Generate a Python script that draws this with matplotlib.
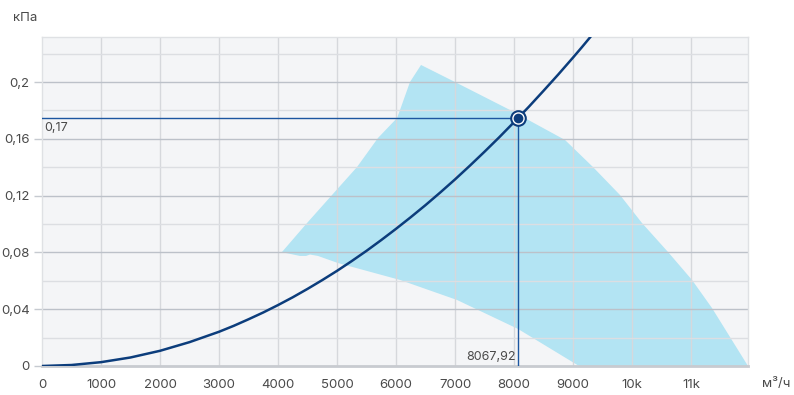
import numpy as np
import matplotlib
matplotlib.use("Agg")
import matplotlib.pyplot as plt

# ── Data ────────────────────────────────────────────────────────────────────
# system curve, m³/h vs kPa
curve_q = [0, 500, 1000, 1500, 2000, 2500, 3000, 3250, 3500, 3750, 4000, 4250,
           4500, 4750, 5000, 5250, 5500, 5750, 6000, 6250, 6500, 6750, 7000,
           7250, 7500, 7750, 8000, 8250, 8500, 8750, 9000, 9150, 9300]
curve_p = [0, 0.0007, 0.0027, 0.006, 0.0107, 0.0168, 0.0241, 0.0283, 0.0329,
           0.0377, 0.0429, 0.0484, 0.0543, 0.0605, 0.067, 0.0739, 0.0811,
           0.0887, 0.0966, 0.1048, 0.1133, 0.1222, 0.1314, 0.141, 0.1509,
           0.1611, 0.1717, 0.1825, 0.1938, 0.2053, 0.2172, 0.2245, 0.232]

# working area of the fan (polygon outline)
area_q = [4068, 4492, 4915, 5339, 5695, 6017, 6068, 6237, 6424,
          7000, 7932, 8864, 9339, 9797, 10169, 10610, 11017, 11356, 11661, 11966,
          9102, 8068, 7034, 6068, 5017, 4678, 4542, 4475, 4373, 4051]
area_p = [0.0803, 0.1007, 0.1204, 0.1401, 0.1606, 0.1746, 0.1803, 0.2, 0.212,
          0.2, 0.1803, 0.1592, 0.1401, 0.1204, 0.1007, 0.0803, 0.0606, 0.0408, 0.0204, 0,
          0, 0.0261, 0.0465, 0.0606, 0.0725, 0.0775, 0.0785, 0.0775, 0.0775, 0.0803]

op_q = 8067.92
op_p = 0.1746

x_ticks = [0, 1000, 2000, 3000, 4000, 5000, 6000, 7000, 8000, 9000, 10000, 11000]
x_labels = ["0", "1000", "2000", "3000", "4000", "5000", "6000", "7000", "8000",
            "9000", "10k", "11k"]
y_ticks = [0, 0.04, 0.08, 0.12, 0.16, 0.2]
y_labels = ["0", "0,04", "0,08", "0,12", "0,16", "0,2"]

# ── Palette ─────────────────────────────────────────────────────────────────
BG    = "#f4f5f7"
FILL  = "#b3e4f3"
CURVE = "#0c3d7c"
GUIDE = "#1d56a0"
TXT   = "#4a4a4a"

plt.rcParams["font.family"] = ["Inter", "DejaVu Sans"]

fig = plt.figure(figsize=(7.94, 3.95), dpi=100)
ax = fig.add_axes([42 / 794, 29 / 395, 706 / 794, 329 / 395])
ax.set_facecolor(BG)
ax.set_xlim(0, 11966)
ax.set_ylim(0, 0.2317)

# grid: vertical every 1000, horizontal every 0.02 (labelled ones darker)
for q in range(1000, 12000, 1000):
    ax.axvline(q, color="#d6d8dc", lw=1.0, zorder=1.5)
for i, p in enumerate(np.arange(0.02, 0.23, 0.02)):
    c = "#bcc1c9" if i % 2 == 1 else "#dcdee2"
    ax.axhline(p, color=c, lw=1.0, zorder=1.5)

ax.fill(area_q, area_p, color=FILL, lw=0, zorder=1)
ax.plot(curve_q, curve_p, color=CURVE, lw=1.8, zorder=3, solid_capstyle="round")

# operating point guides
ax.plot([0, op_q], [op_p, op_p], color=GUIDE, lw=1.0, zorder=2.8)
ax.plot([op_q, op_q], [0, op_p], color=GUIDE, lw=1.0, zorder=2.8)
ax.plot(op_q, op_p, "o", ms=12, mfc=CURVE, mec="none", zorder=4)
ax.plot(op_q, op_p, "o", ms=9, mfc="white", mec="none", zorder=4.1)
ax.plot(op_q, op_p, "o", ms=7, mfc=CURVE, mec="none", zorder=4.2)

ax.text(40, op_p - 0.0025, "0,17", color=TXT, fontsize=9, ha="left", va="top")
ax.text(op_q - 30, 0.002, "8067,92", color=TXT, fontsize=9, ha="right", va="bottom")

# axes styling
for side in ["top", "right", "left"]:
    ax.spines[side].set_color("#dfe1e4")
    ax.spines[side].set_linewidth(1.0)
ax.spines["bottom"].set_color("#c8cbd0")
ax.spines["bottom"].set_linewidth(2)

ax.set_xticks(x_ticks)
ax.set_xticklabels(x_labels)
ax.set_yticks(y_ticks)
ax.set_yticklabels(y_labels)
ax.tick_params(axis="x", length=0, pad=9, colors=TXT, labelsize=9.5)
ax.tick_params(axis="y", length=6, width=1, color="#c6cad0", pad=3,
               colors=TXT, labelsize=9.5)

fig.text(13 / 794, 1 - 18 / 395, "кПа", color=TXT, fontsize=9.5, ha="left", va="center")
fig.text(762 / 794, 1 - 384 / 395, "м³/ч", color=TXT, fontsize=9.5, ha="left", va="center")

fig.savefig("out.png", dpi=100, facecolor="white")
